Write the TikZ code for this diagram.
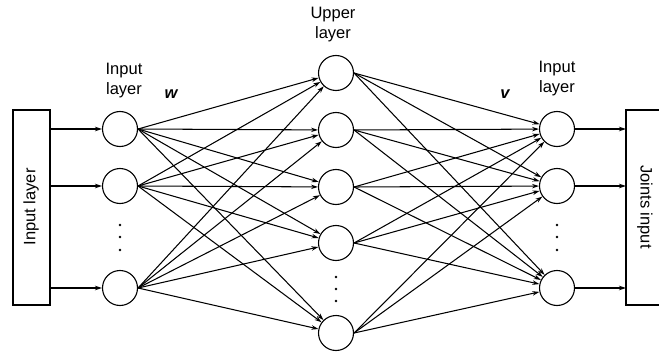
\documentclass[tikz,border=0pt]{standalone}
\usepackage{fontspec}
\setmainfont{Liberation Sans}
\usetikzlibrary{arrows.meta}
\begin{document}
\begin{tikzpicture}[x=1pt,y=-1pt,
  neuron/.style={draw,circle,minimum size=35pt,inner sep=0pt,line width=1.1pt},
  conn/.style={line width=1.05pt,-{Stealth[length=7pt,width=4.5pt]}},
  lbl/.style={font=\fontsize{16.5}{20}\selectfont,align=center,inner sep=0pt},
  boxs/.style={draw,line width=1.1pt}]
\useasboundingbox (0,0) rectangle (659,353);
% boxes
\draw[boxs] (13,110) rectangle (50,305);
\draw[boxs] (626,110) rectangle (675,305);
\node[lbl,rotate=90] (inl) at (31,207) {Input layer};
\node[lbl,rotate=-90] (jin) at (645,207) {Joints input};
\coordinate (bl1) at (50,129);
\coordinate (bl2) at (50,186);
\coordinate (bl3) at (50,288);
\coordinate (br1) at (626,129);
\coordinate (br2) at (626,186);
\coordinate (br3) at (626,288);
% neurons
\node[neuron] (L1) at (120,129) {};
\node[neuron] (L2) at (120,186) {};
\node[neuron] (L3) at (120,288) {};
\node[neuron] (U1) at (336,73) {};
\node[neuron] (U2) at (336,130) {};
\node[neuron] (U3) at (336,187) {};
\node[neuron] (U4) at (336,243) {};
\node[neuron] (U5) at (336,333) {};
\node[neuron] (R1) at (557,129) {};
\node[neuron] (R2) at (557,186) {};
\node[neuron] (R3) at (557,288) {};
% dots
\foreach \yy in {225,237,250} {
  \fill (120,\yy) circle (1.4pt);
  \fill (557,\yy) circle (1.4pt);
}
\foreach \yy in {277,289,301} {
  \fill (336,\yy) circle (1.4pt);
}
% labels
\node[lbl] (tl) at (124,81) {Input\\layer};
\node[lbl] (tu) at (333,25) {Upper\\layer};
\node[lbl] (tr) at (557,79) {Input\\layer};
\node[lbl,font=\fontsize{16.5}{20}\selectfont\bfseries\itshape] (w) at (171,94) {w};
\node[lbl,font=\fontsize{16.5}{20}\selectfont\bfseries\itshape] (v) at (505,94) {v};
% input arrows
\draw[conn] (bl1) -- (L1);
\draw[conn] (bl2) -- (L2);
\draw[conn] (bl3) -- (L3);
\draw[conn] (R1) -- (br1);
\draw[conn] (R2) -- (br2);
\draw[conn] (R3) -- (br3);
% connections
\foreach \a in {L1,L2,L3} {
  \foreach \b in {U1,U2,U3,U4,U5} {
    \draw[conn] (\a.east) -- (\b);
  }
}
\foreach \a in {U1,U2,U3,U4,U5} {
  \foreach \b in {R1,R2,R3} {
    \draw[conn] (\a.east) -- (\b);
  }
}
\end{tikzpicture}
\end{document}
